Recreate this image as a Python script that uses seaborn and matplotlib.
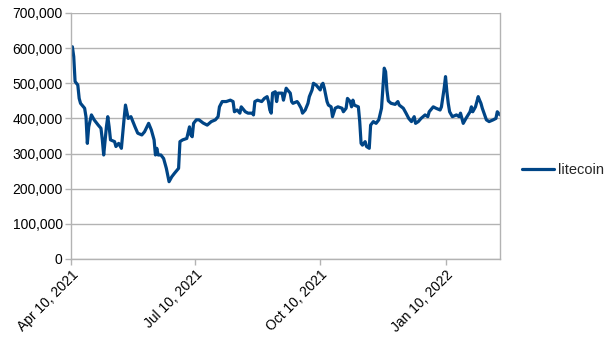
import matplotlib
matplotlib.use("Agg")
import matplotlib.pyplot as plt
import matplotlib.dates as mdates
from matplotlib.ticker import FuncFormatter
import pandas as pd
import seaborn as sns

# Litecoin series: days after the start date and the value on that day
start_date = "2021-04-10"
day_offsets = [
    0, 1, 2, 3, 4, 5, 6, 7, 10, 11, 12, 13, 15, 17, 20, 22, 23, 24, 26, 27,
    28, 29, 32, 33, 35, 37, 39, 40, 42, 44, 47, 49, 52, 54, 57, 59, 61, 62, 63, 64,
    66, 68, 70, 71, 72, 74, 76, 79, 80, 82, 85, 87, 88, 89, 90, 92, 94, 97, 100, 103,
    106, 108, 109, 111, 114, 117, 119, 120, 122, 124, 125, 128, 130, 133, 134, 135, 137, 140, 142, 144,
    145, 146, 147, 148, 150, 151, 152, 155, 156, 158, 159, 161, 162, 163, 166, 167, 169, 170, 172, 174,
    175, 177, 178, 180, 183, 184, 185, 186, 188, 189, 191, 192, 194, 196, 199, 200, 202, 203, 205, 206,
    207, 208, 211, 212, 213, 214, 216, 217, 219, 220, 222, 224, 226, 228, 229, 230, 231, 232, 233, 235,
    238, 240, 241, 244, 246, 248, 250, 252, 253, 255, 257, 260, 262, 263, 266, 268, 271, 272, 274, 275,
    276, 277, 278, 280, 283, 285, 286, 288, 290, 293, 294, 295, 297, 299, 300, 301, 302, 305, 307, 310,
    312, 313, 315,
]
litecoin = [
    595000, 604000, 576000, 505000, 500000, 495000, 457000, 443000, 429000, 405000,
    329000, 376000, 410000, 396000, 381000, 372000, 339000, 296000, 376000, 405000,
    376000, 339000, 334000, 320000, 329000, 315000, 400000, 438000, 400000, 405000,
    376000, 358000, 353000, 362000, 386000, 367000, 339000, 296000, 315000, 296000,
    296000, 286000, 258000, 239000, 220000, 234000, 244000, 258000, 334000, 339000,
    343000, 376000, 353000, 348000, 386000, 396000, 396000, 387000, 381000, 391000,
    396000, 405000, 433000, 448000, 448000, 452000, 448000, 419000, 424000, 415000,
    433000, 419000, 415000, 415000, 410000, 448000, 452000, 448000, 457000, 462000,
    448000, 424000, 415000, 472000, 476000, 448000, 472000, 472000, 452000, 486000,
    481000, 472000, 448000, 443000, 448000, 443000, 429000, 415000, 424000, 443000,
    462000, 481000, 500000, 495000, 481000, 495000, 500000, 486000, 448000, 438000,
    433000, 405000, 429000, 433000, 429000, 419000, 429000, 457000, 448000, 433000,
    452000, 438000, 433000, 391000, 329000, 324000, 334000, 320000, 315000, 381000,
    391000, 386000, 396000, 429000, 486000, 543000, 533000, 480000, 450000, 443000,
    440000, 448000, 438000, 429000, 415000, 400000, 391000, 405000, 386000, 391000,
    400000, 410000, 405000, 419000, 433000, 429000, 424000, 433000, 486000, 519000,
    476000, 443000, 419000, 405000, 410000, 405000, 415000, 386000, 400000, 419000,
    433000, 419000, 433000, 462000, 452000, 443000, 429000, 396000, 391000, 396000,
    400000, 419000, 410000,
]
series_name = "litecoin"
tick_dates = ["2021-04-10", "2021-07-10", "2021-10-10", "2022-01-10"]
end_offset = 315

dates = pd.Timestamp(start_date) + pd.to_timedelta(day_offsets, unit="D")
df = pd.DataFrame({"date": dates, "value": litecoin, "series": series_name})

sns.set_theme(style="white")
plt.rcParams["font.family"] = ["Liberation Sans", "DejaVu Sans"]

grid_color = "#b3b3b3"
line_color = "#004586"

fig = plt.figure(figsize=(6.05, 3.4), dpi=100)
ax = fig.add_axes([71 / 605, 1 - 259 / 340, (500 - 71) / 605, (259 - 13) / 340])

sns.lineplot(data=df, x="date", y="value", hue="series", palette=[line_color],
             linewidth=2.3, ax=ax, legend=True)

ax.set_xlim(pd.Timestamp(start_date), pd.Timestamp(start_date) + pd.Timedelta(days=end_offset))
ax.set_ylim(0, 700000)
ax.set_yticks(range(0, 700001, 100000))
ax.yaxis.set_major_formatter(FuncFormatter(lambda v, p: f"{int(v):,}"))
ax.set_xticks(pd.to_datetime(tick_dates))
ax.xaxis.set_major_formatter(mdates.DateFormatter("%b %d, %Y"))

ax.set_xlabel("")
ax.set_ylabel("")
ax.grid(axis="y", color=grid_color, linewidth=1.0)
ax.set_axisbelow(True)
for s in ax.spines.values():
    s.set_color(grid_color)
    s.set_linewidth(1.0)
ax.spines["top"].set_visible(False)

ax.tick_params(axis="both", which="major", length=4, width=1.0, color=grid_color,
               labelsize=10, labelcolor="#000000", pad=2, direction="out")
ax.tick_params(axis="x", bottom=True)
ax.tick_params(axis="y", left=True)
for lbl in ax.get_xticklabels():
    lbl.set_rotation(45)
    lbl.set_ha("right")
    lbl.set_va("top")
    lbl.set_rotation_mode("anchor")

handles, labels = ax.get_legend_handles_labels()
ax.legend(handles, labels, loc="center left", bbox_to_anchor=(516 / 605, 0.5),
          bbox_transform=fig.transFigure, frameon=False, fontsize=10.5,
          handlelength=2.2, handletextpad=0.25, borderaxespad=0)

fig.savefig("out.png", dpi=100)
